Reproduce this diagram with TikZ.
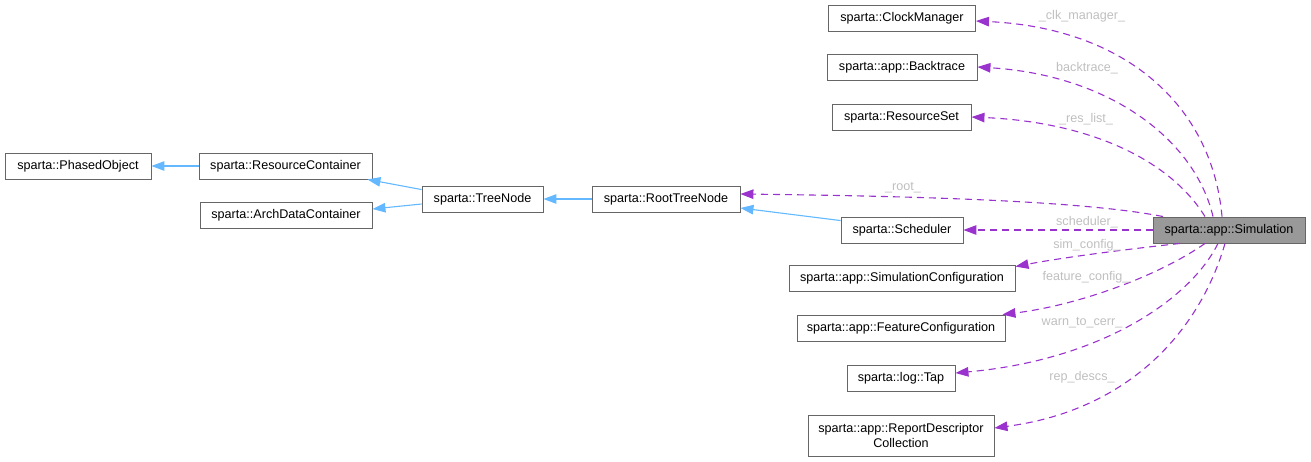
\documentclass[tikz,border=0pt]{standalone}
\usepackage{fontspec}
\setmainfont{Liberation Sans}
\usetikzlibrary{arrows.meta}
\definecolor{boxline}{HTML}{666666}
\definecolor{simfill}{HTML}{999999}
\definecolor{inhc}{HTML}{63B8FF}
\definecolor{usec}{HTML}{9A32CD}
\definecolor{lblc}{HTML}{BFBFBF}
\begin{document}
\begin{tikzpicture}[x=1pt,y=-1pt,
  cls/.style={draw=boxline, line width=0.9pt, inner sep=0pt, minimum height=26pt,
    font=\fontsize{12.6}{14.5}\selectfont, text=black, fill=white, align=center},
  inhedge/.style={draw=inhc, line width=1.1pt, -{Triangle[length=13pt,width=9.5pt]}},
  useedge/.style={draw=usec, line width=1.1pt, dash pattern=on 7pt off 5pt,
    -{Triangle[length=13pt,width=9.5pt]}},
  lab/.style={text=lblc, font=\fontsize{12.6}{14.5}\selectfont, inner sep=0pt}]
\useasboundingbox (0,0) rectangle (1311,461);

% class boxes
\node[cls, minimum width=147pt] (cm)  at (902,18)    {sparta::ClockManager};
\node[cls, minimum width=150pt] (bt)  at (902,67)    {sparta::app::Backtrace};
\node[cls, minimum width=139pt] (rs)  at (901.5,117) {sparta::ResourceSet};
\node[cls, minimum width=146pt] (po)  at (78,166)    {sparta::PhasedObject};
\node[cls, minimum width=173pt] (rc)  at (285.5,166) {sparta::ResourceContainer};
\node[cls, minimum width=172pt] (adc) at (286,215)   {sparta::ArchDataContainer};
\node[cls, minimum width=121pt] (tn)  at (482.5,199) {sparta::TreeNode};
\node[cls, minimum width=148pt] (rtn) at (666,199)   {sparta::RootTreeNode};
\node[cls, minimum width=122pt] (sch) at (902,230)   {sparta::Scheduler};
\node[cls, minimum width=152pt, fill=simfill] (sim) at (1229,230) {sparta::app::Simulation};
\node[cls, minimum width=226pt] (sc)  at (902,278)   {sparta::app::SimulationConfiguration};
\node[cls, minimum width=208pt] (fc)  at (901,328)   {sparta::app::FeatureConfiguration};
\node[cls, minimum width=108pt] (tap) at (901,378)   {sparta::log::Tap};
\node[cls, minimum width=186pt, minimum height=41pt] (rdc) at (901,435.5)
  {sparta::app::ReportDescriptor\\Collection};

% inheritance
\draw[inhedge] (rc.west) -- (po.east);
\draw[inhedge] ([yshift=-4pt]tn.north west) -- ([xshift=-5pt]rc.south east);
\draw[inhedge] ([yshift=-5pt]tn.west) -- ([yshift=6pt]adc.east);
\draw[inhedge] (rtn.west) -- (tn.east);
\draw[inhedge] ([yshift=-4pt]sch.north west) -- ([yshift=-9pt]rtn.east);

% usage
\draw[useedge] ([xshift=-7pt]sim.north) .. controls (1212,105) and (1125,28) .. ([yshift=-3pt]cm.east);
\draw[useedge] ([xshift=-16pt]sim.north) .. controls (1195,140) and (1110,75) .. (bt.east);
\draw[useedge] ([xshift=-24pt]sim.north) .. controls (1170,160) and (1090,122) .. (rs.east);
\draw[useedge] ([xshift=-66pt]sim.north) .. controls (1080,200) and (900,196) .. ([yshift=5pt]rtn.east);
\draw[useedge] (sim.west) -- (sch.east);
\draw[useedge] ([xshift=-49pt]sim.south) .. controls (1120,250) and (1060,258) .. ([yshift=-2pt]sc.north east);
\draw[useedge] ([xshift=-24pt]sim.south) .. controls (1160,275) and (1080,305) .. ([xshift=-3pt]fc.north east);
\draw[useedge] ([xshift=-11pt]sim.south) .. controls (1190,300) and (1100,360) .. ([yshift=5pt]tap.east);
\draw[useedge] ([xshift=-4pt]sim.south) .. controls (1200,330) and (1130,410) .. ([yshift=7.5pt]rdc.east);

% labels
\node[lab] (l1) at (1082,16)  {\_clk\_manager\_};
\node[lab] (l2) at (1087,68)  {backtrace\_};
\node[lab] (l3) at (1086,119) {\_res\_list\_};
\node[lab] (l4) at (903,188)  {\_root\_};
\node[lab] (l5) at (1087,222) {scheduler\_};
\node[lab] (l6) at (1087,245) {sim\_config\_};
\node[lab] (l7) at (1086,277) {feature\_config\_};
\node[lab] (l8) at (1082,323) {warn\_to\_cerr\_};
\node[lab] (l9) at (1082,377) {rep\_descs\_};
\end{tikzpicture}
\end{document}
